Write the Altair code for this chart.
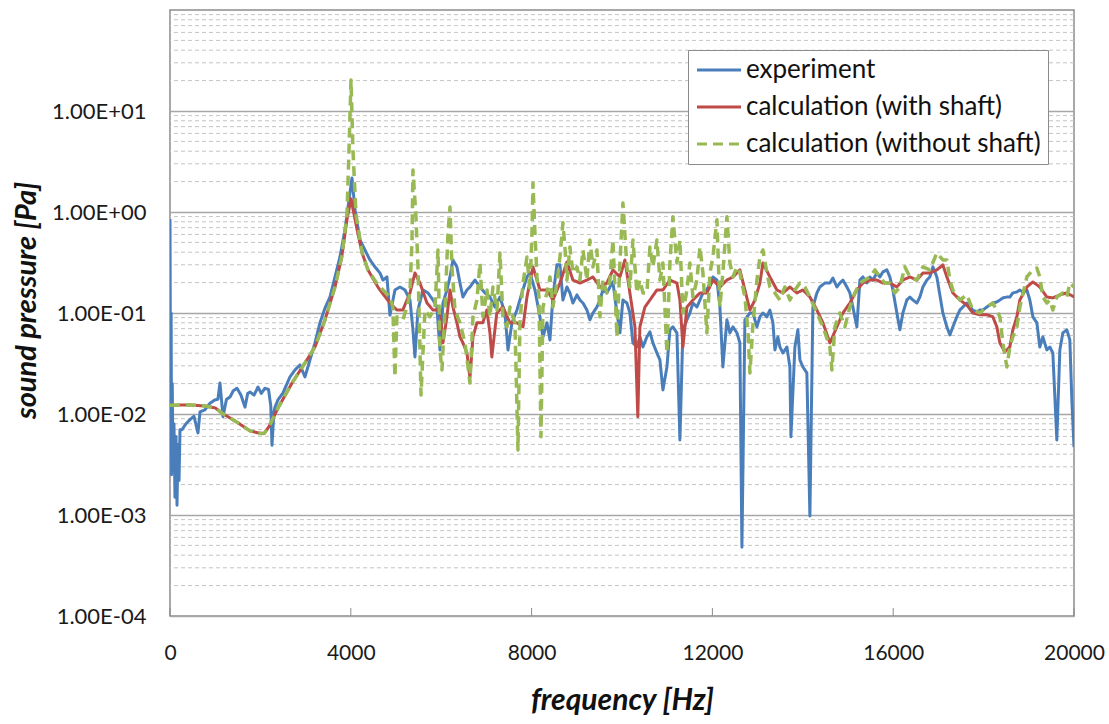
import altair as alt
import pandas as pd

SERIES = ["experiment", "calculation (with shaft)", "calculation (without shaft)"]
COLORS = ["#4a7ebb", "#be4b48", "#98b954"]

exp_f = [0, 15, 25, 35, 50, 66, 88, 110, 133, 155, 177, 200, 221, 265, 354, 442, 530, 619, 664, 774,
         885, 995, 1060, 1106, 1172, 1250, 1327, 1400, 1482, 1570, 1659, 1720, 1770, 1860, 1947, 2020,
         2101, 2180, 2230, 2256, 2300, 2323, 2389, 2500, 2654, 2765, 2876, 2986, 3097, 3207, 3318, 3429,
         3539, 3650, 3760, 3871, 3960, 4026, 4092, 4203, 4313, 4424, 4535, 4645, 4712, 4800, 4866, 4977,
         5088, 5198, 5309, 5375, 5419, 5486, 5596, 5707, 5818, 5906, 5972, 6039, 6127, 6194, 6260, 6348,
         6415, 6481, 6570, 6636, 6747, 6857, 6968, 7078, 7189, 7300, 7410, 7477, 7565, 7676, 7786, 7897,
         7963, 8074, 8184, 8251, 8339, 8406, 8472, 8560, 8627, 8693, 8782, 8848, 8914, 9003, 9069, 9136,
         9224, 9290, 9357, 9445, 9512, 9578, 9666, 9733, 9799, 9888, 9954, 10020, 10109, 10175, 10242,
         10330, 10396, 10463, 10551, 10618, 10684, 10772, 10839, 10905, 10994, 11060, 11126, 11215, 11281,
         11348, 11436, 11502, 11569, 11657, 11724, 11790, 11878, 11945, 12011, 12100, 12166, 12232, 12321,
         12387, 12454, 12542, 12608, 12653, 12719, 12830, 12896, 12985, 13051, 13118, 13206, 13272, 13339,
         13383, 13449, 13493, 13560, 13648, 13714, 13737, 13825, 13891, 13936, 14002, 14090, 14157, 14223,
         14312, 14378, 14489, 14599, 14666, 14754, 14820, 14887, 14975, 15042, 15108, 15196, 15263, 15329,
         15418, 15484, 15551, 15639, 15705, 15772, 15860, 15926, 15993, 16081, 16148, 16214, 16302, 16369,
         16435, 16524, 16590, 16657, 16745, 16811, 16878, 16966, 17032, 17099, 17187, 17254, 17320, 17408,
         17475, 17541, 17630, 17696, 17762, 17851, 17917, 17984, 18072, 18138, 18205, 18293, 18360, 18426,
         18514, 18581, 18647, 18736, 18802, 18868, 18957, 19023, 19090, 19178, 19244, 19311, 19399, 19466,
         19532, 19620, 19687, 19753, 19842, 19908, 19952, 20000]
exp_p = [0.85, 0.004, 0.1, 0.0025, 0.02, 0.003, 0.008, 0.0015, 0.006, 0.00125, 0.005, 0.0022, 0.007, 0.007,
         0.008, 0.0088, 0.0095, 0.0065, 0.0105, 0.011, 0.0128, 0.0138, 0.014, 0.0203, 0.0094, 0.014, 0.0147,
         0.017, 0.018, 0.0154, 0.0117, 0.016, 0.0165, 0.0154, 0.0185, 0.016, 0.018, 0.0175, 0.012, 0.0049,
         0.0105, 0.0117, 0.0138, 0.0162, 0.0233, 0.0273, 0.0306, 0.0233, 0.0343, 0.0506, 0.08, 0.112, 0.144,
         0.2275, 0.359, 0.665, 1.315, 2.17, 1.05, 0.529, 0.421, 0.335, 0.286, 0.249, 0.212, 0.2275, 0.095,
         0.169, 0.181, 0.169, 0.1345, 0.0681, 0.0367, 0.107, 0.169, 0.158, 0.1345, 0.1146, 0.0431, 0.1256,
         0.169, 0.2275, 0.335, 0.286, 0.198, 0.144, 0.169, 0.181, 0.212, 0.181, 0.158, 0.144, 0.1146, 0.144,
         0.1, 0.0431, 0.08, 0.107, 0.158, 0.2275, 0.249, 0.169, 0.0917, 0.058, 0.08, 0.0542, 0.144, 0.3, 0.3,
         0.1345, 0.181, 0.158, 0.1256, 0.151, 0.1345, 0.1256, 0.107, 0.0856, 0.1, 0.1146, 0.1345, 0.169,
         0.158, 0.181, 0.203, 0.1, 0.0636, 0.1345, 0.1256, 0.1, 0.0506, 0.0461, 0.058, 0.0461, 0.058, 0.065,
         0.0506, 0.0402, 0.0343, 0.0173, 0.0292, 0.0681, 0.0729, 0.0636, 0.00554, 0.0681, 0.0856, 0.1,
         0.1256, 0.1146, 0.1345, 0.158, 0.169, 0.198, 0.2275, 0.212, 0.1146, 0.0292, 0.0856, 0.0636, 0.0729,
         0.0636, 0.0506, 0.00048, 0.0856, 0.1, 0.1, 0.0729, 0.0917, 0.1, 0.0917, 0.107, 0.08, 0.0431, 0.058,
         0.0461, 0.0402, 0.0461, 0.0292, 0.00594, 0.0461, 0.0681, 0.0343, 0.0292, 0.0255, 0.00098, 0.1146,
         0.158, 0.181, 0.198, 0.198, 0.222, 0.181, 0.198, 0.212, 0.181, 0.158, 0.1146, 0.0729, 0.212, 0.2275,
         0.198, 0.2275, 0.212, 0.249, 0.2275, 0.255, 0.267, 0.2275, 0.169, 0.1, 0.0681, 0.1, 0.1345, 0.144,
         0.1345, 0.1256, 0.144, 0.181, 0.212, 0.2275, 0.286, 0.2275, 0.151, 0.1, 0.0729, 0.0607, 0.0729,
         0.0917, 0.107, 0.1146, 0.1256, 0.1146, 0.107, 0.102, 0.107, 0.107, 0.1146, 0.12, 0.1256, 0.1285,
         0.1345, 0.141, 0.144, 0.144, 0.158, 0.1615, 0.169, 0.1615, 0.169, 0.1345, 0.0917, 0.08, 0.0461,
         0.058, 0.0431, 0.0461, 0.0402, 0.00554, 0.0431, 0.0636, 0.0681, 0.0542, 0.0138, 0.0047]

with_f = [0, 440, 774, 1000, 1150, 1500, 1770, 1950, 2080, 2190, 2400, 2700, 2986, 3207, 3429, 3650, 3800,
          3915, 4004, 4140, 4250, 4380, 4600, 4645, 4866, 5020, 5150, 5309, 5419, 5530, 5685, 5818, 5972,
          6039, 6127, 6194, 6260, 6348, 6415, 6481, 6570, 6636, 6703, 6790, 6920, 7010, 7078, 7120, 7230,
          7365, 7520, 7676, 7810, 7897, 8030, 8120, 8184, 8339, 8472, 8627, 8782, 8914, 9069, 9224, 9357,
          9512, 9666, 9799, 9954, 10064, 10175, 10286, 10350, 10396, 10507, 10618, 10772, 10905, 11060,
          11215, 11281, 11348, 11436, 11569, 11724, 11878, 12011, 12166, 12321, 12454, 12608, 12719, 12830,
          12940, 13051, 13118, 13272, 13427, 13560, 13714, 13869, 14002, 14157, 14312, 14445, 14599, 14754,
          14887, 15042, 15196, 15329, 15484, 15639, 15772, 15926, 16081, 16214, 16369, 16524, 16657, 16811,
          16966, 17099, 17187, 17320, 17475, 17630, 17762, 17917, 18072, 18205, 18293, 18360, 18470, 18580,
          18647, 18736, 18802, 18957, 19090, 19244, 19399, 19532, 19687, 19842, 20000]
with_p = [0.0122, 0.0123, 0.012, 0.0115, 0.0102, 0.0082, 0.0068, 0.0065, 0.0064, 0.0075, 0.0117, 0.0203,
          0.032, 0.0461, 0.0856, 0.181, 0.359, 0.837, 1.35, 0.665, 0.393, 0.267, 0.181, 0.169, 0.1256, 0.107,
          0.107, 0.158, 0.249, 0.198, 0.1256, 0.107, 0.107, 0.0506, 0.0917, 0.169, 0.1146, 0.08, 0.058,
          0.0506, 0.0402, 0.02275, 0.058, 0.08, 0.08, 0.107, 0.0636, 0.0367, 0.1, 0.1146, 0.08, 0.08, 0.0729,
          0.144, 0.286, 0.212, 0.169, 0.169, 0.1345, 0.198, 0.32, 0.212, 0.198, 0.212, 0.2275, 0.181, 0.198,
          0.267, 0.2275, 0.335, 0.158, 0.0729, 0.0094, 0.0729, 0.1146, 0.1345, 0.169, 0.169, 0.212, 0.198,
          0.1345, 0.0461, 0.1146, 0.1345, 0.158, 0.158, 0.212, 0.181, 0.212, 0.2275, 0.267, 0.169, 0.107,
          0.1345, 0.198, 0.313, 0.2275, 0.169, 0.158, 0.181, 0.158, 0.169, 0.144, 0.107, 0.08, 0.0506,
          0.0729, 0.1, 0.1256, 0.169, 0.198, 0.212, 0.212, 0.198, 0.198, 0.181, 0.212, 0.2275, 0.212, 0.249,
          0.249, 0.267, 0.299, 0.2275, 0.158, 0.1345, 0.12, 0.1, 0.096, 0.096, 0.0917, 0.0729, 0.0506,
          0.0412, 0.0461, 0.0681, 0.0917, 0.1345, 0.181, 0.203, 0.181, 0.144, 0.141, 0.151, 0.158, 0.144]

without_f = [0, 440, 774, 1000, 1150, 1500, 1770, 1950, 2080, 2190, 2400, 2700, 2986, 3207, 3429, 3650,
             3800, 3915, 3960, 4004, 4048, 4115, 4250, 4380, 4600, 4645, 4866, 4930, 4977, 5020, 5154, 5243,
             5309, 5354, 5375, 5442, 5486, 5530, 5553, 5641, 5752, 5862, 5929, 5972, 6017, 6083, 6150, 6194,
             6238, 6305, 6415, 6526, 6636, 6703, 6791, 6857, 6924, 7013, 7078, 7145, 7234, 7300, 7366, 7455,
             7521, 7631, 7698, 7742, 7809, 7897, 7963, 8008, 8030, 8074, 8119, 8163, 8207, 8251, 8339, 8406,
             8472, 8560, 8627, 8693, 8737, 8782, 8848, 8914, 9003, 9069, 9136, 9224, 9290, 9357, 9445, 9512,
             9578, 9666, 9733, 9799, 9888, 9954, 10020, 10109, 10175, 10242, 10330, 10396, 10463, 10551,
             10618, 10684, 10772, 10839, 10905, 10994, 11060, 11126, 11215, 11281, 11348, 11436, 11502,
             11569, 11657, 11724, 11790, 11878, 11945, 12011, 12100, 12166, 12232, 12321, 12387, 12454,
             12542, 12608, 12719, 12785, 12830, 12896, 12985, 13051, 13118, 13206, 13272, 13383, 13493,
             13604, 13714, 13825, 13936, 14046, 14157, 14312, 14445, 14599, 14644, 14710, 14820, 14931,
             15042, 15152, 15263, 15374, 15484, 15597, 15705, 15816, 15926, 16037, 16148, 16259, 16369,
             16524, 16657, 16811, 16966, 17099, 17187, 17254, 17320, 17475, 17630, 17762, 17917, 18072,
             18205, 18360, 18426, 18514, 18581, 18647, 18736, 18802, 18957, 19090, 19178, 19244, 19311,
             19399, 19466, 19532, 19620, 19753, 19842, 19908, 20000]
without_p = [0.0122, 0.0123, 0.012, 0.0115, 0.0102, 0.0082, 0.0068, 0.0064, 0.0064, 0.0075, 0.0117,
             0.0203, 0.032, 0.0461, 0.0856, 0.181, 0.359, 0.94, 4.1, 20.3, 4.1, 0.94, 0.393, 0.267, 0.19,
             0.181, 0.144, 0.1146, 0.0233, 0.0917, 0.0856, 0.1146, 0.158, 0.529, 2.61, 0.896, 0.286, 0.0431,
             0.0154, 0.107, 0.0917, 0.1146, 0.421, 0.0431, 0.0273, 0.107, 0.621, 1.12, 0.286, 0.107, 0.08,
             0.0506, 0.0203, 0.0917, 0.1345, 0.313, 0.0917, 0.169, 0.0917, 0.181, 0.107, 0.393, 0.0917,
             0.0729, 0.1146, 0.08, 0.00441, 0.08, 0.198, 0.359, 0.169, 0.621, 1.94, 0.621, 0.2275, 0.144,
             0.00594, 0.1146, 0.158, 0.2275, 0.1146, 0.198, 0.359, 0.781, 0.451, 0.212, 0.451, 0.249, 0.286,
             0.212, 0.421, 0.212, 0.529, 0.286, 0.421, 0.0917, 0.212, 0.158, 0.212, 0.529, 0.058, 0.313,
             1.23, 0.286, 0.181, 0.529, 0.158, 0.212, 0.158, 0.158, 0.451, 0.286, 0.529, 0.212, 0.313,
             0.0402, 0.313, 0.896, 0.313, 0.529, 0.1, 0.169, 0.313, 0.144, 0.212, 0.451, 0.249, 0.0636,
             0.249, 0.359, 0.837, 0.1146, 0.249, 0.896, 0.313, 0.2275, 0.286, 0.249, 0.144, 0.0681, 0.0255,
             0.076, 0.212, 0.359, 0.421, 0.249, 0.181, 0.158, 0.1345, 0.181, 0.1345, 0.169, 0.198, 0.181,
             0.144, 0.1, 0.0729, 0.0461, 0.0273, 0.0729, 0.1, 0.0729, 0.1146, 0.158, 0.198, 0.212, 0.2275,
             0.267, 0.2275, 0.198, 0.198, 0.158, 0.181, 0.286, 0.2275, 0.212, 0.286, 0.267, 0.393, 0.335,
             0.335, 0.212, 0.169, 0.1345, 0.151, 0.107, 0.1, 0.1146, 0.1256, 0.0917, 0.0506, 0.0292, 0.0461,
             0.058, 0.0729, 0.1146, 0.2275, 0.267, 0.279, 0.2275, 0.144, 0.1256, 0.1345, 0.107, 0.144, 0.158,
             0.144, 0.198, 0.181]

x_ticks = [0, 4000, 8000, 12000, 16000, 20000]
y_major = [1e-4, 1e-3, 1e-2, 1e-1, 1, 10]
y_minor = [m * 10.0 ** e for e in range(-4, 2) for m in range(2, 10)]

frames = []
for name, fs, ps in [(SERIES[0], exp_f, exp_p), (SERIES[1], with_f, with_p), (SERIES[2], without_f, without_p)]:
    frames.append(pd.DataFrame({"f": fs, "p": ps, "series": name}))

FONT = "Lato"

x_scale = alt.Scale(domain=[0, 20000], nice=False, zero=False)
y_scale = alt.Scale(type="log", domain=[1e-4, 100], nice=False)

X_AX = alt.Axis(values=x_ticks, grid=False, ticks=False, domain=False, labelFont=FONT, labelFontSize=21,
                labelColor="#1a1a1a", labelPadding=26, labelFlush=False, format="d",
                title="frequency [Hz]", titleFont=FONT, titleFontSize=30, titleFontStyle="italic",
                titleFontWeight="bold", titleColor="#111111", titlePadding=22)
Y_AX = alt.Axis(values=y_major, grid=True, gridColor="#a6a6a6", gridWidth=1.5, ticks=False, domain=False,
                labelFont=FONT, labelFontSize=22, labelColor="#1a1a1a", labelPadding=24,
                labelExpr="'1.00E' + (datum.value >= 1 ? '+' : '-') + '0' + abs(round(log(datum.value) / LN10))",
                title="sound pressure [Pa]", titleFont=FONT, titleFontSize=29, titleFontStyle="italic",
                titleFontWeight="bold", titleColor="#111111", titleAngle=270, titleX=-144, titleY=290,
                titleAlign="center", titleBaseline="middle")

LEG = dict(title=None, orient="none", legendX=518, legendY=40, fillColor="white", strokeColor="#8c8c8c",
           padding=7, labelFont=FONT, labelFontSize=26, labelColor="#111111", labelLimit=600,
           symbolType="M-2,0H2", symbolSize=484, symbolStrokeWidth=3, symbolOffset=11,
           rowPadding=11, labelOffset=14)

color_enc = alt.Color("series:N", scale=alt.Scale(domain=SERIES, range=COLORS), legend=alt.Legend(**LEG))
dash_enc = alt.StrokeDash("series:N", scale=alt.Scale(domain=SERIES, range=[[1, 0], [1, 0], [10, 6]]),
                          legend=alt.Legend(**LEG))

minor = alt.Chart(pd.DataFrame({"p": y_minor})).mark_rule(
    color="#c4c4c4", strokeWidth=1, strokeDash=[4, 3]
).encode(y=alt.Y("p:Q", scale=y_scale, axis=Y_AX))

ticks = alt.Chart(pd.DataFrame({"f": x_ticks})).mark_rule(color="#8c8c8c", strokeWidth=1).encode(
    x=alt.X("f:Q", scale=x_scale, axis=X_AX), y=alt.value(598), y2=alt.value(606))

widths = [3, 3, 3.5]
lines = []
for i, df in enumerate(frames):
    lines.append(alt.Chart(df).mark_line(strokeWidth=widths[i], clip=True, strokeJoin="round").encode(
        x=alt.X("f:Q", scale=x_scale, axis=X_AX),
        y=alt.Y("p:Q", scale=y_scale, axis=Y_AX),
        color=color_enc,
        strokeDash=dash_enc,
        order=alt.Order("f:Q"),
    ))

chart = alt.layer(minor, ticks, *lines).properties(
    width=904, height=606, autosize="none",
    padding={"left": 170, "top": 10, "right": 35, "bottom": 108},
    background="white",
).configure_view(stroke="#8c8c8c", strokeWidth=1.5)

chart.save("out.html", embed_options={"renderer": "svg", "actions": False})
